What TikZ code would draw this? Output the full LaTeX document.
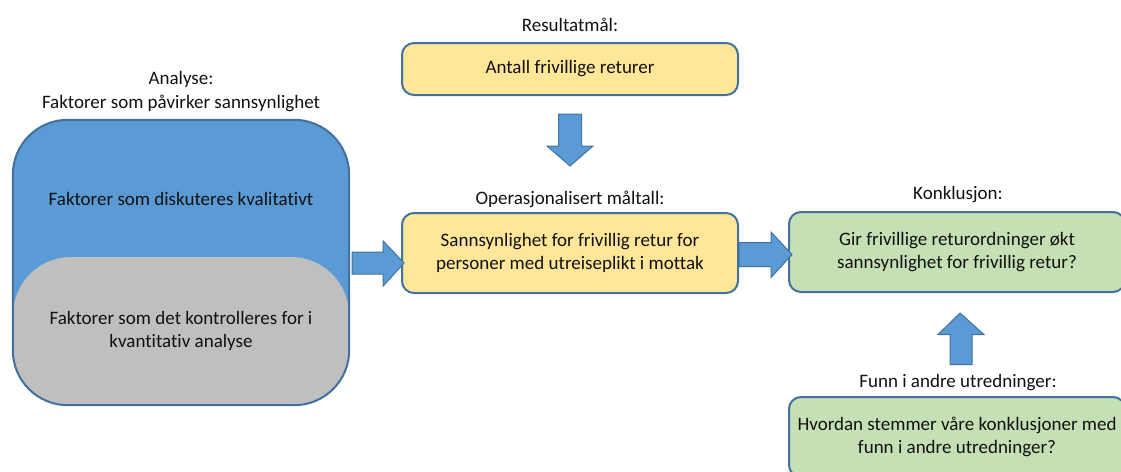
\documentclass[tikz,border=0pt]{standalone}
\usepackage{fontspec}
\setmainfont{Carlito}[Ligatures=NoCommon]
\usetikzlibrary{calc}
\definecolor{bfill}{HTML}{5B9BD5}
\definecolor{bline}{HTML}{41719C}
\definecolor{gfill}{HTML}{BFBFBF}
\definecolor{yfill}{HTML}{FFE699}
\definecolor{grfill}{HTML}{C5E0B4}
\definecolor{txt}{HTML}{111111}
\tikzset{
  box/.style={draw=bline, line width=2pt, rounded corners=12pt, minimum width=336pt,
    align=center, text=txt, font=\fontsize{19}{23.5}\selectfont, inner sep=0pt},
  ybox/.style={box, fill=yfill},
  gbox/.style={box, fill=grfill},
  lbl/.style={text=txt, font=\fontsize{19}{23.5}\selectfont, align=center, inner sep=0pt},
  barrow/.style={fill=bfill, draw=bline, line width=1pt, line join=miter},
}
\begin{document}
\begin{tikzpicture}[x=1pt,y=-1pt]
\useasboundingbox (0,0) rectangle (1121,471);
% analysis block
\node[draw=none, minimum width=336pt, minimum height=285pt, inner sep=0pt] (analyse) at (181,262.5) {};
\fill[bfill, rounded corners=55pt] (analyse.north west) rectangle (analyse.south east);
\begin{scope}
\clip[rounded corners=55pt] (analyse.north west) rectangle (analyse.south east);
\fill[gfill, rounded corners=58pt] (13,257) rectangle (349,440);
\end{scope}
\draw[bline, line width=2pt, rounded corners=55pt] (analyse.north west) rectangle (analyse.south east);
\node[lbl] (kval) at (181,199) {Faktorer som diskuteres kvalitativt};
\node[lbl] (kvant) at (181,331) {Faktorer som det kontrolleres for i\\kvantitativ analyse};
\node[lbl] (analbl) at (181,91.5) {Analyse:\\Faktorer som påvirker sannsynlighet};
% top
\node[lbl] (reslbl) at (570,25) {Resultatmål:};
\node[ybox, minimum height=52pt] (res) at (570,69) {Antall frivillige returer};
\node[lbl] (oplbl) at (570,199) {Operasjonalisert måltall:};
\node[ybox, minimum height=80pt] (op) at (570,253) {Sannsynlighet for frivillig retur for\\personer med utreiseplikt i mottak};
% right
\node[lbl] (konlbl) at (958,195) {Konklusjon:};
\node[gbox, minimum height=80pt] (kon) at (957,252) {Gir frivillige returordninger økt\\sannsynlighet for frivillig retur?};
\node[lbl] (funnlbl) at (958,383) {Funn i andre utredninger:};
\node[gbox, minimum height=80pt] (funn) at (957,437) {Hvordan stemmer våre konklusjoner med\\funn i andre utredninger?};
% arrows
\coordinate (a1) at ($(analyse.east)+(3,0.5)$);
\draw[barrow] ($(a1)+(0,-11)$) -- ++(31,0) -- ++(0,-11) -- ($(op.west)+(3,10)$) -- ($(a1)+(31,23)$) -- ++(0,-12) -- ++(-31,0) -- cycle;
\coordinate (a2) at ($(op.east)+(0,1.5)$);
\draw[barrow] ($(a2)+(0,-12)$) -- ++(32,0) -- ++(0,-10.5) -- ($(kon.west)+(4,2.5)$) -- ($(a2)+(32,23)$) -- ++(0,-11) -- ++(-32,0) -- cycle;
\coordinate (a3) at ($(res.south)+(0,18)$);
\draw[barrow] ($(a3)+(-11.5,0)$) -- ++(0,32) -- ++(-11.5,0) -- ($(op.north)+(0,-46)$) -- ($(a3)+(23,32)$) -- ++(-11.5,0) -- ++(0,-32) -- cycle;
\coordinate (a4) at ($(funnlbl.north)+(3,-10)$);
\draw[barrow] ($(a4)+(-11,0)$) -- ++(0,-30) -- ++(-12,0) -- ($(kon.south)+(3,20)$) -- ($(a4)+(23,-30)$) -- ++(-12,0) -- ++(0,30) -- cycle;
\end{tikzpicture}
\end{document}
